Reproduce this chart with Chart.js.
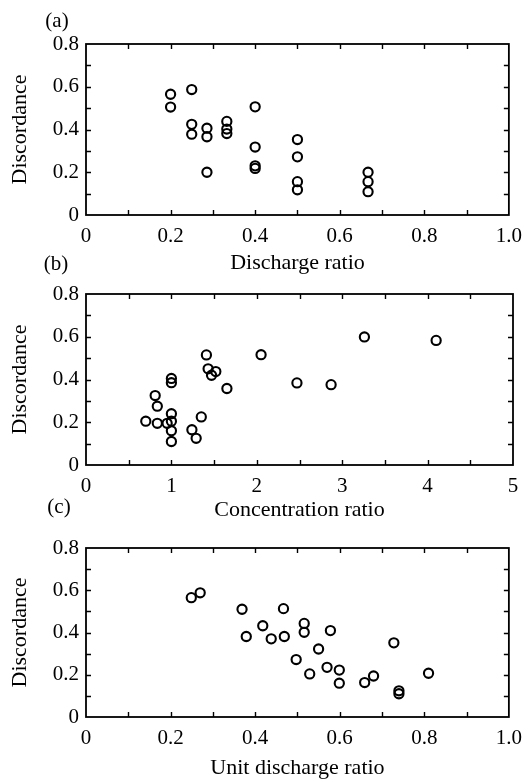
<!DOCTYPE html>
<html>
<head>
<meta charset="utf-8">
<script src="https://cdn.jsdelivr.net/npm/chart.js@4.4.0/dist/chart.umd.min.js"></script>
<style>
body { margin: 0; background: #fff; }
#wrap { position: relative; width: 531px; height: 782px; }
canvas { position: absolute; left: 0; top: 0; }
</style>
</head>
<body>
<div id="wrap">
  <canvas id="chartA" width="531" height="782"></canvas>
  <canvas id="chartB" width="531" height="782"></canvas>
  <canvas id="chartC" width="531" height="782"></canvas>
</div>
<script>
// (a) discharge ratio vs discordance
const dischargeRatio = [0.2, 0.2, 0.25, 0.25, 0.25, 0.286, 0.286, 0.286, 0.333, 0.333, 0.333,
  0.4, 0.4, 0.4, 0.4, 0.5, 0.5, 0.5, 0.5, 0.667, 0.667, 0.667];
const discordanceA = [0.565, 0.505, 0.587, 0.424, 0.378, 0.406, 0.366, 0.200, 0.438, 0.402, 0.381,
  0.506, 0.318, 0.230, 0.218, 0.353, 0.272, 0.156, 0.118, 0.200, 0.156, 0.109];

// (b) concentration ratio vs discordance
const concentrationRatio = [0.70, 0.81, 0.835, 0.835, 0.95, 1.0, 1.0, 1.0, 1.0, 1.0, 1.0, 1.24,
  1.29, 1.35, 1.41, 1.43, 1.47, 1.52, 1.65, 2.05, 2.47, 2.87, 3.26, 4.10];
const discordanceB = [0.205, 0.325, 0.275, 0.195, 0.195, 0.405, 0.385, 0.24, 0.205, 0.16, 0.11, 0.165,
  0.125, 0.225, 0.515, 0.45, 0.42, 0.437, 0.358, 0.516, 0.384, 0.376, 0.599, 0.583];

// (c) unit discharge ratio vs discordance
const unitDischargeRatio = [0.249, 0.27, 0.369, 0.379, 0.418, 0.438, 0.467, 0.469, 0.497, 0.516, 0.516,
  0.529, 0.55, 0.57, 0.578, 0.599, 0.599, 0.659, 0.68, 0.728, 0.74, 0.74, 0.81];
const discordanceC = [0.565, 0.588, 0.51, 0.381, 0.432, 0.37, 0.513, 0.381, 0.272, 0.443, 0.401,
  0.204, 0.322, 0.235, 0.409, 0.222, 0.16, 0.163, 0.194, 0.351, 0.124, 0.11, 0.207];

const ratioTicks = [0, 0.2, 0.4, 0.6, 0.8, 1.0];
const concTicks = [0, 1, 2, 3, 4, 5];
const discTicks = [0, 0.2, 0.4, 0.6, 0.8];

Chart.defaults.font.family = "'Liberation Serif', 'Times New Roman', serif";
Chart.defaults.color = '#000';

const fmtDec = v => (v === 0 ? '0' : v.toFixed(1));
const fmtInt = v => String(v);

// frame, inward minor/major ticks on all 4 sides, panel letter
const framePlugin = {
  id: 'frame',
  afterDraw(chart, args, o) {
    const ctx = chart.ctx;
    const a = chart.chartArea;
    const xs = chart.scales.x, ys = chart.scales.y;
    ctx.save();
    ctx.strokeStyle = '#000';
    ctx.lineWidth = 1.8;
    ctx.strokeRect(a.left, a.top, a.right - a.left, a.bottom - a.top);
    ctx.lineWidth = 1.4;
    ctx.beginPath();
    for (let i = 1; xs.min + i * o.xStep < xs.max - 1e-9; i++) {
      const px = Math.round(xs.getPixelForValue(xs.min + i * o.xStep)) + 0.5;
      ctx.moveTo(px, a.bottom); ctx.lineTo(px, a.bottom - 5);
      ctx.moveTo(px, a.top); ctx.lineTo(px, a.top + 5);
    }
    for (let i = 1; ys.min + i * o.yStep < ys.max - 1e-9; i++) {
      const py = Math.round(ys.getPixelForValue(ys.min + i * o.yStep)) + 0.5;
      ctx.moveTo(a.left, py); ctx.lineTo(a.left + 5, py);
      ctx.moveTo(a.right, py); ctx.lineTo(a.right - 5, py);
    }
    ctx.stroke();
    ctx.fillStyle = '#000';
    ctx.font = "21px 'Liberation Serif', serif";
    ctx.textAlign = 'center';
    ctx.textBaseline = 'middle';
    ctx.fillText(o.label, o.lx, o.ly);
    ctx.restore();
  }
};

function makePanel(id, xs, ys, cfg) {
  const pts = xs.map((x, i) => ({ x: x, y: ys[i] }));
  return new Chart(document.getElementById(id), {
    type: 'scatter',
    data: {
      datasets: [{
        data: pts,
        pointRadius: 4.6,
        pointBorderWidth: 2.1,
        borderColor: '#000',
        backgroundColor: 'rgba(0,0,0,0)'
      }]
    },
    options: {
      responsive: false,
      animation: false,
      events: [],
      layout: { padding: { left: 9, right: 18, top: cfg.top, bottom: 782 - cfg.bottom - cfg.xH } },
      plugins: {
        legend: { display: false },
        tooltip: { enabled: false },
        frame: { xStep: cfg.xStep, yStep: 0.1, label: cfg.label, lx: cfg.lx, ly: cfg.ly }
      },
      scales: {
        x: {
          type: 'linear',
          min: cfg.xTicks[0],
          max: cfg.xTicks[cfg.xTicks.length - 1],
          afterBuildTicks: s => { s.ticks = cfg.xTicks.map(v => ({ value: v })); },
          afterFit: s => { s.height = cfg.xH; },
          ticks: { callback: cfg.xFmt, padding: 9, maxRotation: 0, autoSkip: false, font: { size: 21 } },
          grid: { display: false, drawTicks: false },
          border: { display: false },
          title: { display: true, text: cfg.xTitle, padding: 0, font: { size: 22, lineHeight: 1 } }
        },
        y: {
          type: 'linear',
          min: 0,
          max: 0.8,
          afterBuildTicks: s => { s.ticks = discTicks.map(v => ({ value: v })); },
          afterFit: s => { s.width = 77; },
          ticks: { callback: fmtDec, padding: 7, font: { size: 21 } },
          grid: { display: false, drawTicks: false },
          border: { display: false },
          title: { display: true, text: 'Discordance', padding: 0, font: { size: 22, lineHeight: 1 } }
        }
      }
    },
    plugins: [framePlugin]
  });
}

makePanel('chartA', dischargeRatio, discordanceA, {
  top: 44, bottom: 215, xH: 59, xTicks: ratioTicks, xFmt: fmtDec, xStep: 0.1,
  xTitle: 'Discharge ratio', label: '(a)', lx: 57, ly: 21
});
makePanel('chartB', concentrationRatio, discordanceB, {
  top: 294, bottom: 465, xH: 56, xTicks: concTicks, xFmt: fmtInt, xStep: 0.5,
  xTitle: 'Concentration ratio', label: '(b)', lx: 56, ly: 264
});
makePanel('chartC', unitDischargeRatio, discordanceC, {
  top: 548, bottom: 717, xH: 62, xTicks: ratioTicks, xFmt: fmtDec, xStep: 0.1,
  xTitle: 'Unit discharge ratio', label: '(c)', lx: 59, ly: 507
});
</script>
</body>
</html>
